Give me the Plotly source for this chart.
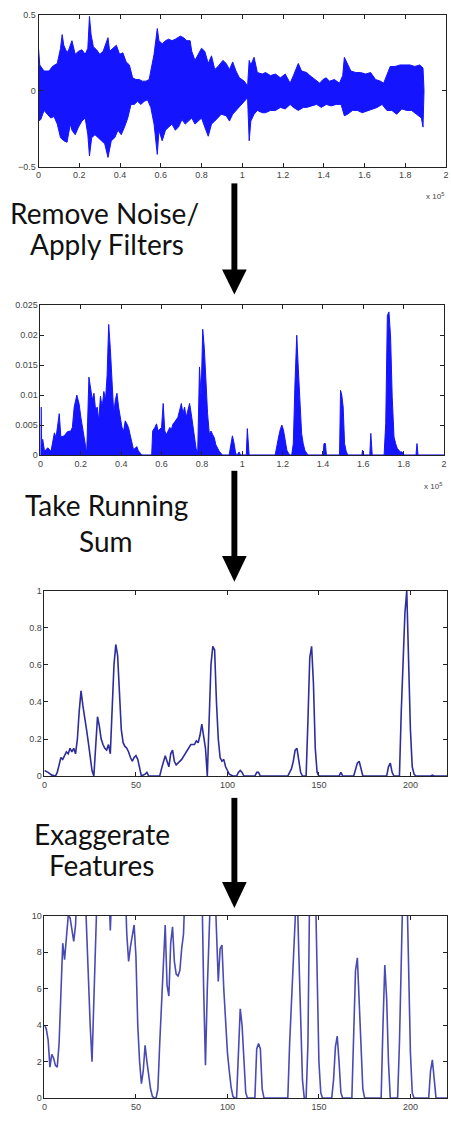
import plotly.graph_objects as go

W, H = 451, 1122

# ---------------- Panel 1: raw waveform envelope (x in units of 1e5 samples) ----------------
wave_upper_x = [0.0, 0.006, 0.027, 0.052, 0.068, 0.092, 0.108, 0.116, 0.124, 0.14, 0.148, 0.164, 0.18, 0.196,
                0.213, 0.229, 0.242, 0.25, 0.258, 0.269, 0.285, 0.301, 0.317, 0.333, 0.341, 0.349, 0.366, 0.382,
                0.398, 0.414, 0.43, 0.446, 0.462, 0.478, 0.494, 0.51, 0.527, 0.543, 0.551, 0.567, 0.583, 0.591,
                0.607, 0.623, 0.639, 0.655, 0.671, 0.696, 0.712, 0.728, 0.744, 0.752, 0.768, 0.784, 0.8, 0.816,
                0.833, 0.849, 0.865, 0.881, 0.905, 0.921, 0.937, 0.953, 0.969, 0.986, 1.01, 1.026, 1.034, 1.042,
                1.058, 1.074, 1.098, 1.114, 1.138, 1.163, 1.187, 1.211, 1.235, 1.251, 1.275, 1.291, 1.316, 1.332,
                1.356, 1.38, 1.396, 1.412, 1.428, 1.452, 1.477, 1.493, 1.501, 1.517, 1.533, 1.557, 1.581, 1.605,
                1.63, 1.654, 1.678, 1.694, 1.71, 1.726, 1.75, 1.775, 1.799, 1.823, 1.847, 1.871, 1.887, 1.892]
wave_upper_y = [0.28, 0.17, 0.13, 0.13, 0.16, 0.18, 0.28, 0.37, 0.30, 0.25, 0.27, 0.33, 0.24, 0.26,
                0.27, 0.24, 0.28, 0.49, 0.37, 0.29, 0.27, 0.24, 0.26, 0.33, 0.35, 0.26, 0.28, 0.30,
                0.24, 0.25, 0.19, 0.17, 0.085, 0.074, 0.074, 0.063, 0.063, 0.074, 0.13, 0.24, 0.41, 0.33,
                0.31, 0.33, 0.34, 0.33, 0.34, 0.36, 0.35, 0.33, 0.33, 0.26, 0.20, 0.24, 0.28, 0.26,
                0.18, 0.23, 0.14, 0.16, 0.20, 0.18, 0.14, 0.19, 0.13, 0.085, 0.063, 0.03, 0.20, 0.17,
                0.22, 0.12, 0.11, 0.12, 0.10, 0.11, 0.085, 0.11, 0.05, 0.10, 0.18, 0.13, 0.12, 0.10,
                0.074, 0.05, 0.074, 0.085, 0.063, 0.074, 0.05, 0.10, 0.22, 0.17, 0.13, 0.12, 0.12, 0.11,
                0.12, 0.074, 0.063, 0.05, 0.11, 0.16, 0.16, 0.17, 0.17, 0.17, 0.16, 0.17, 0.15, 0.0]
wave_lower_x = [0.0, 0.011, 0.027, 0.043, 0.06, 0.076, 0.092, 0.108, 0.124, 0.14, 0.156, 0.164, 0.18, 0.196,
                0.213, 0.229, 0.242, 0.25, 0.261, 0.277, 0.293, 0.309, 0.325, 0.341, 0.357, 0.374, 0.39, 0.406,
                0.422, 0.438, 0.454, 0.47, 0.486, 0.502, 0.519, 0.535, 0.551, 0.567, 0.583, 0.591, 0.607, 0.623,
                0.639, 0.655, 0.671, 0.687, 0.704, 0.72, 0.736, 0.752, 0.768, 0.784, 0.8, 0.816, 0.833, 0.849,
                0.865, 0.881, 0.897, 0.921, 0.937, 0.953, 0.969, 0.986, 1.01, 1.026, 1.034, 1.042, 1.058, 1.074,
                1.098, 1.114, 1.138, 1.163, 1.187, 1.211, 1.235, 1.251, 1.275, 1.3, 1.316, 1.34, 1.365, 1.388,
                1.412, 1.436, 1.461, 1.485, 1.501, 1.517, 1.541, 1.565, 1.589, 1.614, 1.638, 1.662, 1.686, 1.71,
                1.734, 1.758, 1.783, 1.807, 1.831, 1.855, 1.879, 1.887, 1.892]
wave_lower_y = [-0.20, -0.19, -0.13, -0.155, -0.18, -0.17, -0.22, -0.31, -0.33, -0.34, -0.22, -0.26, -0.29, -0.24,
                -0.20, -0.18, -0.29, -0.43, -0.31, -0.29, -0.31, -0.33, -0.35, -0.44, -0.33, -0.31, -0.26, -0.29,
                -0.24, -0.18, -0.09, -0.09, -0.07, -0.09, -0.07, -0.06, -0.11, -0.22, -0.42, -0.26, -0.33, -0.26,
                -0.24, -0.22, -0.26, -0.24, -0.19, -0.22, -0.20, -0.18, -0.22, -0.20, -0.18, -0.24, -0.30, -0.22,
                -0.20, -0.18, -0.155, -0.165, -0.20, -0.155, -0.13, -0.10, -0.07, -0.046, -0.33, -0.20, -0.155, -0.13,
                -0.145, -0.145, -0.13, -0.13, -0.11, -0.12, -0.09, -0.11, -0.13, -0.11, -0.11, -0.10, -0.09, -0.11,
                -0.09, -0.10, -0.09, -0.09, -0.165, -0.155, -0.13, -0.13, -0.145, -0.13, -0.12, -0.11, -0.09, -0.13,
                -0.13, -0.155, -0.12, -0.13, -0.13, -0.155, -0.18, -0.24, 0.0]

# ---------------- Panel 2: filtered energy (x in units of 1e5, y) ----------------
filt_x = [0.0, 0.003, 0.006, 0.011, 0.02, 0.036, 0.052, 0.069, 0.077, 0.093, 0.101, 0.118, 0.134, 0.15, 0.158,
          0.167, 0.18, 0.191, 0.2, 0.216, 0.229, 0.24, 0.248, 0.257, 0.265, 0.273, 0.281, 0.289, 0.297, 0.306,
          0.314, 0.322, 0.33, 0.338, 0.346, 0.355, 0.363, 0.371, 0.379, 0.387, 0.395, 0.404, 0.412, 0.42, 0.428,
          0.436, 0.444, 0.453, 0.461, 0.469, 0.477, 0.485, 0.493, 0.502, 0.551, 0.556, 0.567, 0.575, 0.583, 0.592,
          0.6, 0.608, 0.616, 0.624, 0.632, 0.641, 0.649, 0.657, 0.665, 0.673, 0.681, 0.69, 0.698, 0.706, 0.714,
          0.722, 0.73, 0.739, 0.747, 0.755, 0.763, 0.771, 0.779, 0.788, 0.796, 0.804, 0.812, 0.82, 0.828, 0.837,
          0.845, 0.853, 0.861, 0.869, 0.877, 0.886, 0.894, 0.902, 0.935, 0.943, 0.951, 0.959, 0.967, 0.975,
          0.984, 0.992, 1.02, 1.025, 1.03, 1.034, 1.163, 1.172, 1.18, 1.188, 1.196, 1.204, 1.212, 1.221, 1.229,
          1.237, 1.245, 1.253, 1.261, 1.27, 1.278, 1.286, 1.294, 1.302, 1.31, 1.319, 1.327, 1.4, 1.405, 1.412,
          1.417, 1.482, 1.487, 1.493, 1.5, 1.507, 1.515, 1.523, 1.593, 1.596, 1.601, 1.632, 1.637, 1.644, 1.703,
          1.711, 1.719, 1.727, 1.735, 1.743, 1.752, 1.76, 1.768, 1.776, 1.784, 1.792, 1.801, 1.861, 1.866, 1.871,
          2.0]
filt_y = [0.0, 0.008, 0.0015, 0.0026, 0.0006, 0.0012, 0.0006, 0.0037, 0.0029, 0.0069, 0.003, 0.0032, 0.0039,
          0.004, 0.0046, 0.008, 0.010, 0.0086, 0.0063, 0.0029, 0.0003, 0.013, 0.0115, 0.0092, 0.0103, 0.0075,
          0.008, 0.0057, 0.0098, 0.008, 0.0106, 0.0092, 0.0132, 0.0218, 0.0178, 0.0126, 0.0069, 0.0092, 0.0103,
          0.008, 0.0063, 0.0046, 0.004, 0.0057, 0.0052, 0.0046, 0.0034, 0.0017, 0.0009, 0.0011, 0.0014, 0.0007,
          0.0003, 0.0, 0.0, 0.004, 0.0046, 0.0052, 0.004, 0.0043, 0.0046, 0.0086, 0.004, 0.0034, 0.004, 0.0046,
          0.0043, 0.0052, 0.0055, 0.006, 0.0063, 0.0075, 0.0086, 0.0069, 0.008, 0.0063, 0.0075, 0.0086, 0.0069,
          0.0052, 0.0034, 0.0011, 0.0003, 0.0147, 0.0098, 0.021, 0.0178, 0.0109, 0.0069, 0.0034, 0.004, 0.0034,
          0.0029, 0.0017, 0.0011, 0.0006, 0.0003, 0.0, 0.0, 0.0017, 0.0032, 0.002, 0.0003, 0.0, 0.0005, 0.0, 0.0,
          0.0044, 0.0022, 0.0, 0.0, 0.0019, 0.003, 0.0042, 0.005, 0.0042, 0.0025, 0.0008, 0.0003, 0.0, 0.0,
          0.0019, 0.0117, 0.020, 0.0142, 0.0075, 0.0036, 0.0019, 0.0008, 0.0003, 0.0, 0.0, 0.0019, 0.0019, 0.0,
          0.0, 0.0108, 0.010, 0.008, 0.0019, 0.0006, 0.0, 0.0, 0.0008, 0.0, 0.0, 0.0036, 0.0, 0.0, 0.0053,
          0.0233, 0.0239, 0.0197, 0.0097, 0.003, 0.0019, 0.0011, 0.0008, 0.0005, 0.0005, 0.0, 0.0, 0.0019, 0.0,
          0.0]

# ---------------- Panel 3: running sum ----------------
sum_x = [0, 2, 4, 6, 7, 8, 9, 10, 11, 12, 13, 14, 15, 16, 17, 18, 19, 20, 21, 22, 23, 24, 25, 26, 27, 28, 29,
         30, 31, 32, 33, 34, 35, 36, 37, 38, 39, 40, 41, 42, 43, 44, 45, 46, 47, 48, 49, 50, 51, 52, 53, 55, 56,
         57, 63, 64, 65, 66, 67, 68, 69, 70, 71, 72, 75, 78, 80, 82, 83, 84, 85, 86, 87, 88, 89, 90, 91, 92, 93,
         94, 95, 96, 97, 98, 99, 100, 101, 103, 105, 106, 107, 108, 109, 115, 116, 117, 118, 133, 135, 136, 137,
         138, 139, 140, 141, 143, 144, 145, 146, 147, 148, 149, 150, 161, 162, 163, 169, 170, 171, 172, 173, 174,
         187, 188, 189, 190, 191, 194, 195, 196, 197, 198, 199, 200, 201, 202, 203, 211, 212, 213, 220]
sum_y = [0.03, 0.02, 0.005, 0.0, 0.02, 0.07, 0.10, 0.09, 0.11, 0.13, 0.12, 0.15, 0.13, 0.15, 0.12, 0.20, 0.35,
         0.46, 0.38, 0.30, 0.25, 0.18, 0.10, 0.03, 0.0, 0.20, 0.32, 0.27, 0.20, 0.17, 0.15, 0.14, 0.17, 0.12,
         0.37, 0.60, 0.71, 0.65, 0.45, 0.25, 0.18, 0.16, 0.15, 0.13, 0.10, 0.08, 0.10, 0.11, 0.09, 0.04, 0.0,
         0.01, 0.02, 0.0, 0.0, 0.04, 0.08, 0.11, 0.08, 0.05, 0.12, 0.14, 0.08, 0.06, 0.09, 0.14, 0.17, 0.17,
         0.19, 0.18, 0.22, 0.28, 0.20, 0.15, 0.0, 0.30, 0.60, 0.70, 0.68, 0.40, 0.20, 0.10, 0.08, 0.09, 0.05,
         0.03, 0.01, 0.0, 0.0, 0.02, 0.03, 0.02, 0.0, 0.0, 0.02, 0.02, 0.0, 0.0, 0.04, 0.08, 0.14, 0.15, 0.08,
         0.02, 0.0, 0.0, 0.30, 0.64, 0.70, 0.50, 0.15, 0.02, 0.0, 0.0, 0.02, 0.0, 0.0, 0.04, 0.07, 0.08, 0.04,
         0.0, 0.0, 0.05, 0.07, 0.02, 0.0, 0.0, 0.35, 0.60, 0.88, 1.0, 0.60, 0.25, 0.05, 0.01, 0.0, 0.0, 0.005,
         0.0, 0.0]

# ---------------- Panel 4: exaggerated features (off-scale values estimated at 12) ----------------
exag_x = [0, 1, 2, 3, 4, 5, 6, 7, 8, 9, 10, 11, 12, 13, 14, 15, 16, 17, 18, 22, 23, 24, 25, 26, 27, 28, 29, 35,
          36, 37, 44, 45, 46, 47, 48, 49, 50, 51, 52, 53, 54, 55, 56, 57, 58, 59, 60, 61, 62, 63, 64, 65, 66, 67,
          68, 69, 70, 71, 72, 73, 74, 75, 76, 77, 85, 86, 87, 88, 89, 90, 91, 93, 94, 95, 96, 97, 98, 99, 100,
          101, 102, 103, 104, 105, 106, 107, 108, 109, 110, 111, 115, 116, 117, 118, 119, 120, 133, 134, 135, 136,
          137, 138, 139, 140, 141, 142, 143, 144, 145, 148, 149, 150, 151, 152, 157, 158, 159, 160, 161, 162, 163,
          168, 169, 170, 171, 172, 173, 174, 175, 184, 185, 186, 187, 188, 189, 193, 194, 195, 196, 198, 199, 200,
          201, 202, 210, 211, 212, 213, 214, 220]
exag_y = [4.0, 3.8, 3.2, 1.7, 2.4, 2.2, 1.8, 1.7, 3.0, 6.0, 8.5, 7.6, 9.0, 10.0, 9.9, 9.3, 8.6, 9.5, 12, 12,
          9.0, 6.5, 4.0, 2.0, 5.0, 8.0, 12, 12, 9.2, 12, 12, 9.0, 7.5, 8.3, 9.0, 9.5, 7.8, 4.0, 2.0, 0.8, 1.5,
          2.9, 2.0, 1.2, 0.5, 0.1, 0.0, 0.0, 0.5, 3.0, 5.5, 7.3, 9.5, 6.2, 5.6, 8.5, 9.4, 7.5, 6.8, 6.7, 7.0,
          8.2, 9.0, 12, 12, 12, 6.0, 1.8, 6.0, 9.5, 12, 12, 9.0, 6.4, 8.2, 8.4, 6.0, 4.0, 2.5, 1.5, 0.6, 0.1,
          0.0, 0.0, 3.0, 4.9, 4.0, 2.0, 0.3, 0.0, 0.0, 2.7, 3.0, 2.7, 0.5, 0.0, 0.0, 3.0, 5.5, 8.0, 9.5, 12,
          8.0, 5.0, 1.0, 0.0, 0.0, 3.0, 12, 12, 6.0, 2.0, 0.3, 0.0, 0.0, 1.0, 2.8, 3.4, 2.0, 0.3, 0.0, 0.0, 3.5,
          7.0, 7.7, 5.0, 2.5, 0.5, 0.0, 0.0, 4.0, 7.3, 5.5, 2.0, 0.0, 0.0, 3.0, 7.5, 12, 12, 6.7, 2.5, 0.3, 0.0,
          0.0, 1.5, 2.1, 1.0, 0.0, 0.0]

# ---------------- Text ----------------
step_lines = [["Remove Noise/", "Apply Filters"], ["Take Running", "Sum"], ["Exaggerate", "Features"]]


def px(x):
    return x / W


def py(y):
    return 1 - y / H


fig = go.Figure()

fig.add_trace(go.Scatter(x=wave_upper_x + wave_lower_x[::-1], y=wave_upper_y + wave_lower_y[::-1],
                         fill="toself", fillcolor="#1414ff", mode="lines",
                         line=dict(color="#1414ff", width=1), xaxis="x", yaxis="y", hoverinfo="skip"))
fig.add_trace(go.Scatter(x=filt_x, y=filt_y, fill="tozeroy", fillcolor="#1414ff", mode="lines",
                         line=dict(color="#1414ff", width=1), xaxis="x2", yaxis="y2", hoverinfo="skip"))
fig.add_trace(go.Scatter(x=sum_x, y=sum_y, mode="lines", line=dict(color="#2d2d9c", width=1.6),
                         xaxis="x3", yaxis="y3", hoverinfo="skip"))
fig.add_trace(go.Scatter(x=exag_x, y=exag_y, mode="lines", line=dict(color="#4a4ab4", width=1.6),
                         xaxis="x4", yaxis="y4", hoverinfo="skip"))

tickfont = dict(family="Liberation Sans", size=9, color="#444")
common = dict(showline=True, linecolor="#222", linewidth=1, mirror="ticks", ticks="inside", ticklen=4,
              tickcolor="#222", showgrid=False, zeroline=False, tickfont=tickfont, fixedrange=True)

panels = [
    # (left, right, top, bottom) in pixels
    (36, 449, 10, 163),
    (38, 447, 303, 454),
    (42, 450, 591, 778),
    (42, 450, 919, 1103),
]

layout = dict(width=W, height=H, margin=dict(l=0, r=0, t=0, b=0), showlegend=False,
              paper_bgcolor="white", plot_bgcolor="white")

xr = [[0, 2], [0, 2], [0, 220], [0, 220]]
xd = [0.2, 0.2, 50, 50]
yr = [[-0.5, 0.5], [0, 0.025], [0, 1], [0, 10]]
yd = [0.5, 0.005, 0.2, 2]
for i, (l, r, t, b) in enumerate(panels):
    sfx = "" if i == 0 else str(i + 1)
    layout["xaxis" + sfx] = dict(common, domain=[px(l), px(r)], range=xr[i], dtick=xd[i],
                                 anchor="y" + sfx)
    layout["yaxis" + sfx] = dict(common, domain=[py(b), py(t)], range=yr[i], dtick=yd[i],
                                 anchor="x" + sfx)

fig.update_layout(**layout)

# arrows
arrows = [(234.5, 180, 267, 292), (234.5, 470, 556, 582), (234.5, 800, 885, 911)]
for cx, y0, yh, ytip in arrows:
    fig.add_shape(type="rect", xref="paper", yref="paper", x0=px(cx - 3), x1=px(cx + 3), y0=py(yh + 1), y1=py(y0),
                  fillcolor="black", line=dict(width=0))
    path = "M {} {} L {} {} L {} {} Z".format(px(cx - 12.5), py(yh), px(cx + 12.5), py(yh), px(cx), py(ytip))
    fig.add_shape(type="path", xref="paper", yref="paper", path=path, fillcolor="black", line=dict(width=0))

# step labels
label_pos = [((103, 210), (105, 241)), ((105, 505), (104, 541)), ((100, 836), (100, 868))]
for lines, poss in zip(step_lines, label_pos):
    for txt, (x, y) in zip(lines, poss):
        fig.add_annotation(text=txt, x=px(x), y=py(y), xref="paper", yref="paper", showarrow=False,
                           xanchor="center", yanchor="middle",
                           font=dict(family="Lato", size=28, color="#111"))

# exponent labels
for (x, y) in [(449, 193), (447, 485)]:
    fig.add_annotation(text="x 10<sup>5</sup>", x=px(x), y=py(y), xref="paper", yref="paper", showarrow=False,
                       xanchor="right", yanchor="middle", font=dict(family="Liberation Sans", size=8, color="#444"))

fig.write_html("out.html")
